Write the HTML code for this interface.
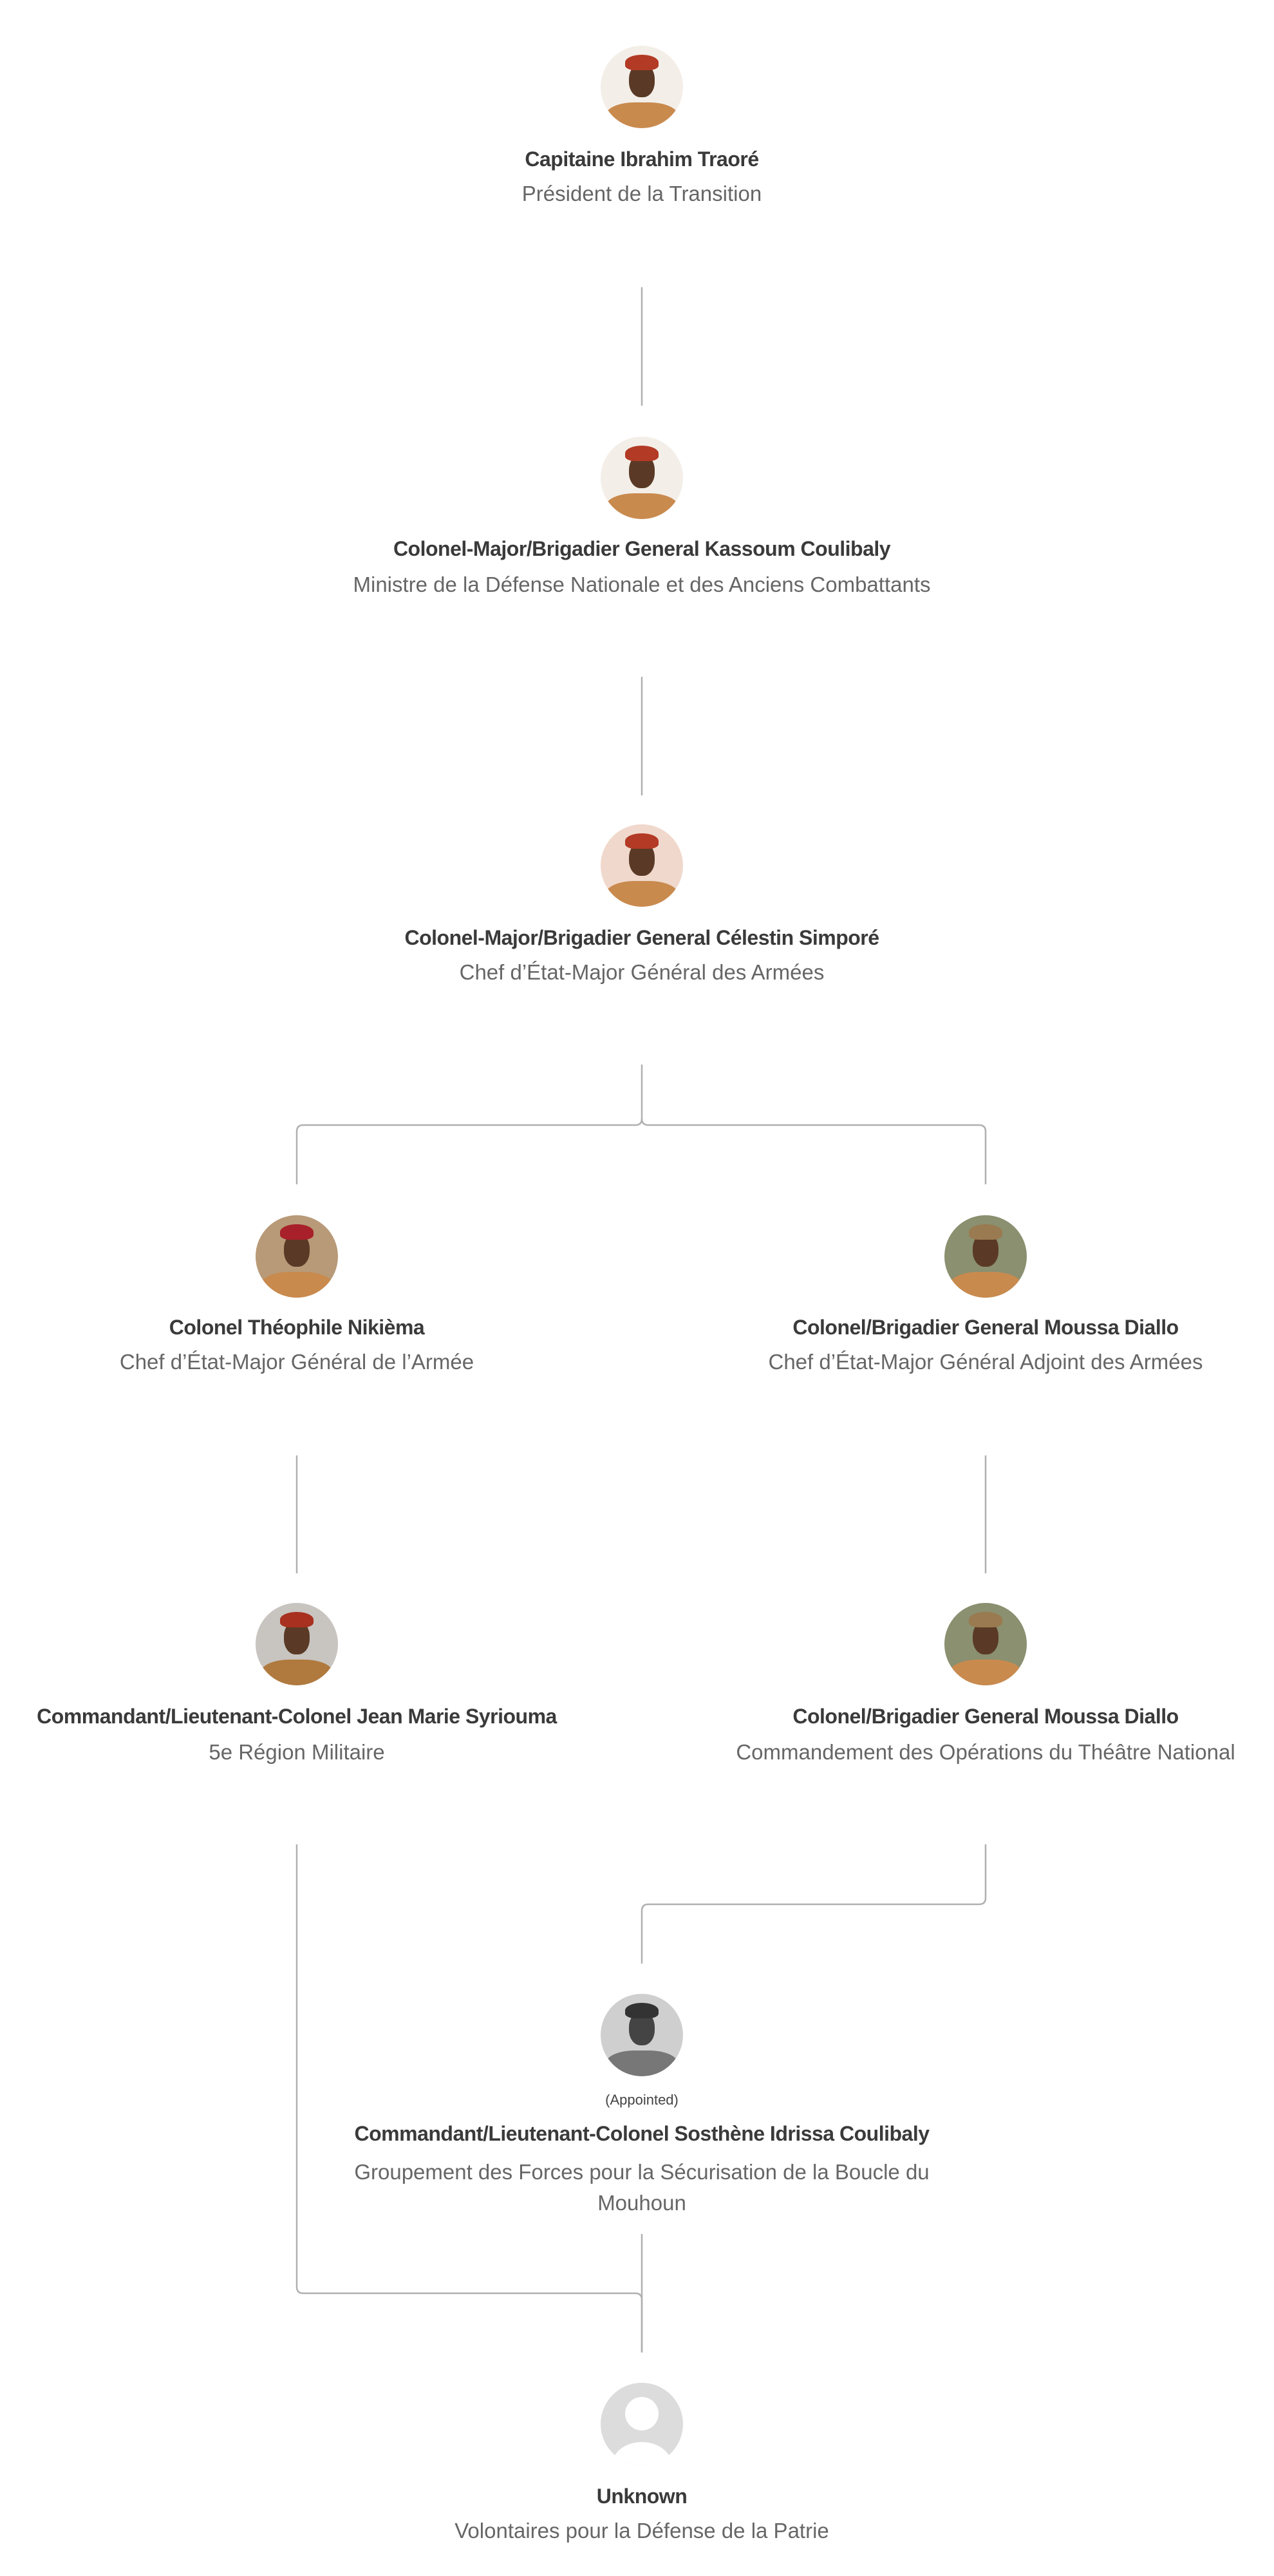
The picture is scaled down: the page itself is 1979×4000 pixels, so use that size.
<!DOCTYPE html>
<html><head><meta charset="utf-8"><style>
body{margin:0;background:#fff;width:1979px;height:4000px;position:relative;overflow:hidden;font-family:"Liberation Sans",sans-serif}
.t{position:absolute;width:1200px;text-align:center;white-space:nowrap;font-size:32px;line-height:38px}
.n{font-weight:bold;color:#3a3a3a;letter-spacing:-0.5px}
.s{color:#666;font-size:33px}
.av{position:absolute;width:128px;height:128px;border-radius:50%;overflow:hidden;background:#f3eee8}
.av .cam{position:absolute;left:8px;right:8px;bottom:-10px;height:50px;border-radius:40% 40% 0 0;background:#c98a4e}
.av .face{position:absolute;left:44px;top:28px;width:40px;height:52px;border-radius:45%;background:#5a3a26}
.av .ber{position:absolute;left:38px;top:14px;width:52px;height:24px;border-radius:50% 50% 30% 30%;background:#b33a24}
</style></head><body>
<svg width="1979" height="4000" style="position:absolute;left:0;top:0" fill="none" stroke="#b0b0b0" stroke-width="2.5">
<path d="M997 446V630"/>
<path d="M997 1051V1235"/>
<path d="M997 1653V1737Q997 1747 987 1747H471Q461 1747 461 1757V1839"/>
<path d="M997 1737Q997 1747 1007 1747H1521Q1531 1747 1531 1757V1839"/>
<path d="M461 2260V2443"/>
<path d="M1531 2260V2443"/>
<path d="M1531 2864V2947Q1531 2957 1521 2957H1007Q997 2957 997 2967V3049"/>
<path d="M461 2864V3551Q461 3561 471 3561H987Q997 3561 997 3571V3653"/>
<path d="M997 3469V3653"/>
</svg>

<div class="av" style="left:933px;top:71px"><div class="cam"></div><div class="face"></div><div class="ber"></div></div>
<div class="t n" style="left:397px;top:228px">Capitaine Ibrahim Traoré</div>
<div class="t s" style="left:397px;top:282px">Président de la Transition</div>

<div class="av" style="left:933px;top:678px"><div class="cam"></div><div class="face"></div><div class="ber"></div></div>
<div class="t n" style="left:397px;top:833px">Colonel-Major/Brigadier General Kassoum Coulibaly</div>
<div class="t s" style="left:397px;top:889px">Ministre de la Défense Nationale et des Anciens Combattants</div>

<div class="av" style="left:933px;top:1280px;background:#f0d8cc"><div class="cam"></div><div class="face"></div><div class="ber"></div></div>
<div class="t n" style="left:397px;top:1437px">Colonel-Major/Brigadier General Célestin Simporé</div>
<div class="t s" style="left:397px;top:1491px">Chef d’État-Major Général des Armées</div>

<div class="av" style="left:397px;top:1887px;background:#b89a78"><div class="cam"></div><div class="face"></div><div class="ber" style="background:#a8202a"></div></div>
<div class="t n" style="left:-139px;top:2042px">Colonel Théophile Nikièma</div>
<div class="t s" style="left:-139px;top:2096px">Chef d’État-Major Général de l’Armée</div>

<div class="av" style="left:1467px;top:1887px;background:#8a9070"><div class="cam"></div><div class="face"></div><div class="ber" style="background:#9a7a50"></div></div>
<div class="t n" style="left:931px;top:2042px">Colonel/Brigadier General Moussa Diallo</div>
<div class="t s" style="left:931px;top:2096px">Chef d’État-Major Général Adjoint des Armées</div>

<div class="av" style="left:397px;top:2489px;background:#c8c4c0"><div class="cam" style="background:#b07a3e"></div><div class="face"></div><div class="ber" style="background:#a83020"></div></div>
<div class="t n" style="left:-139px;top:2646px">Commandant/Lieutenant-Colonel Jean Marie Syriouma</div>
<div class="t s" style="left:-139px;top:2702px">5e Région Militaire</div>

<div class="av" style="left:1467px;top:2489px;background:#8a9070"><div class="cam"></div><div class="face"></div><div class="ber" style="background:#9a7a50"></div></div>
<div class="t n" style="left:931px;top:2646px">Colonel/Brigadier General Moussa Diallo</div>
<div class="t s" style="left:931px;top:2702px">Commandement des Opérations du Théâtre National</div>

<div class="av" style="left:933px;top:3096px;background:#cfcfcf"><div class="cam" style="background:#777"></div><div class="face" style="background:#444"></div><div class="ber" style="background:#333"></div></div>
<div class="t" style="left:397px;top:3248px;font-size:22px;line-height:26px;color:#444">(Appointed)</div>
<div class="t n" style="left:397px;top:3294px">Commandant/Lieutenant-Colonel Sosthène Idrissa Coulibaly</div>
<div class="t s" style="left:397px;top:3349px;line-height:48px">Groupement des Forces pour la Sécurisation de la Boucle du<br>Mouhoun</div>

<div class="av" style="left:933px;top:3700px;background:#dcdcdc">
<div style="position:absolute;left:38px;top:22px;width:52px;height:52px;border-radius:50%;background:#fff"></div>
<div style="position:absolute;left:18px;top:92px;width:92px;height:70px;border-radius:50%;background:#fff"></div>
</div>
<div class="t n" style="left:397px;top:3857px">Unknown</div>
<div class="t s" style="left:397px;top:3911px">Volontaires pour la Défense de la Patrie</div>
</body></html>
